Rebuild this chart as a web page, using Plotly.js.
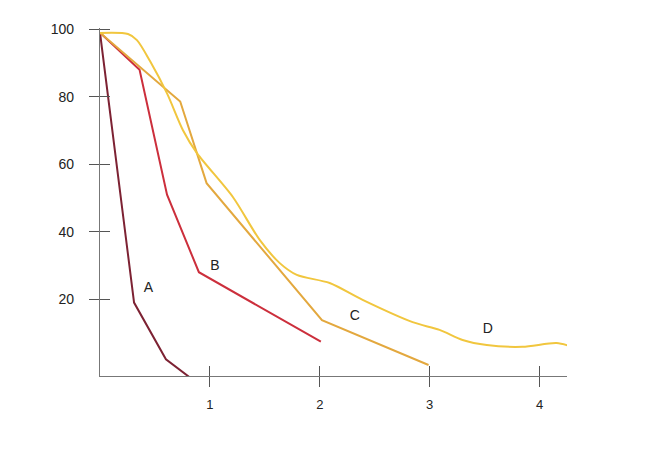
<!DOCTYPE html>
<html>
<head>
<meta charset="utf-8">
<script src="https://cdn.plot.ly/plotly-3.0.1.min.js"></script>
<style>html,body{margin:0;padding:0;background:#fff;}#chart{width:648px;height:451px;}</style>
</head>
<body>
<div id="chart"></div>
<script>
// Series values
const aX = [0, 0.31, 0.60, 0.81];
const aY = [99, 19, 2.2, -3];
const bX = [0, 0.36, 0.61, 0.90, 2.01];
const bY = [99, 88, 51, 28, 7.4];
const cX = [0, 0.73, 0.97, 2.02, 2.99];
const cY = [99, 78.6, 54.4, 13.8, 0.5];
const dX = [0, 0.255, 0.336, 0.455, 0.61, 0.755, 0.882, 1.209, 1.455, 1.636, 1.791, 2.09, 2.39, 2.845, 3.09, 3.30, 3.52, 3.845, 4.155, 4.30];
const dY = [98.9, 98.6, 96.8, 90.6, 81, 70.1, 63.3, 50.3, 37.5, 30.7, 27.2, 24.8, 19.8, 13.2, 10.9, 7.9, 6.4, 5.9, 7.0, 5.9];
const seriesLabels = ["A", "B", "C", "D"];
const labelX = [0.44, 1.045, 2.32, 3.53];
const labelY = [23.3, 29.8, 15, 10.9];
const xTicks = [1, 2, 3, 4];
const yTicks = [20, 40, 60, 80, 100];

const colors = ["#7d2233", "#cc2f3c", "#e3a83e", "#f1c63e"];
const xs = [aX, bX, cX, dX];
const ys = [aY, bY, cY, dY];

const traces = xs.map((x, i) => ({
  x: x, y: ys[i], type: "scatter", mode: "lines",
  line: {color: colors[i], width: 2, shape: i === 3 ? "spline" : "linear", smoothing: 0.8},
  hoverinfo: "skip", showlegend: false, cliponaxis: false
}));
traces.push({
  x: labelX, y: labelY, text: seriesLabels, type: "scatter", mode: "text",
  textfont: {family: "Liberation Sans, Arial, sans-serif", size: 14, color: "#222"},
  showlegend: false, hoverinfo: "skip"
});

const xr = [0, 4.25];
const yr = [-2.76, 100.4];
const tickCol = "#555";
const layout = {
  width: 648, height: 451,
  margin: {l: 100, r: 81, t: 28, b: 75},
  paper_bgcolor: "#fff", plot_bgcolor: "#fff",
  font: {family: "Liberation Sans, Arial, sans-serif", size: 14, color: "#222"},
  xaxis: {range: xr, showgrid: false, zeroline: false, showline: true, linecolor: "#777", linewidth: 1.2,
    tickvals: xTicks, ticktext: xTicks.map(String), ticks: "outside", ticklen: 10, tickwidth: 1.2, tickcolor: tickCol,
    ticklabelstandoff: 6, tickfont: {size: 13, color: "#222"}},
  yaxis: {range: yr, showgrid: false, zeroline: false, showline: true, linecolor: "#777", linewidth: 1.2,
    tickvals: yTicks, ticktext: yTicks.map(String), ticks: "outside", ticklen: 10, tickwidth: 1.2, tickcolor: tickCol,
    ticklabelstandoff: 12, tickfont: {size: 14, color: "#222"}},
  xaxis2: {range: xr, overlaying: "x", showgrid: false, zeroline: false, showline: false,
    tickvals: xTicks, ticks: "inside", ticklen: 10, tickwidth: 1.2, tickcolor: tickCol, showticklabels: false},
  yaxis2: {range: yr, overlaying: "y", showgrid: false, zeroline: false, showline: false,
    tickvals: yTicks, ticks: "inside", ticklen: 10, tickwidth: 1.2, tickcolor: tickCol, showticklabels: false}
};
// invisible trace to activate the overlay axes
traces.push({x: [null], y: [null], xaxis: "x2", yaxis: "y2", type: "scatter", mode: "lines", showlegend: false, hoverinfo: "skip"});

Plotly.newPlot("chart", traces, layout, {staticPlot: true, displayModeBar: false});
</script>
</body>
</html>
